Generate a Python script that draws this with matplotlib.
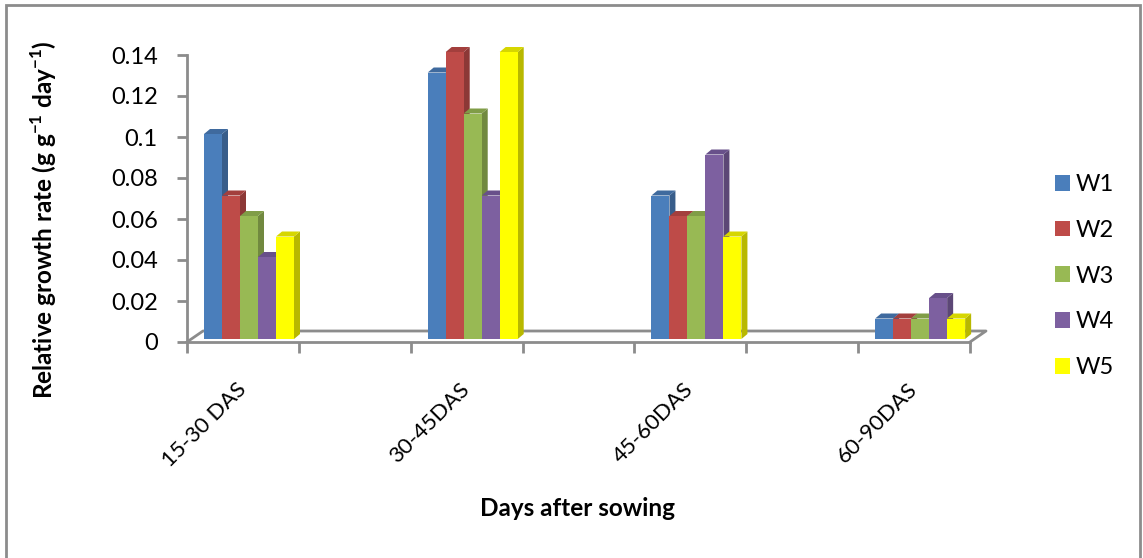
import numpy as np
import matplotlib
matplotlib.use('Agg')
import matplotlib.pyplot as plt
from matplotlib.patches import Polygon, Patch, Rectangle
from matplotlib.lines import Line2D

plt.rcParams['font.family'] = ['Lato', 'DejaVu Sans']
plt.rcParams['mathtext.fontset'] = 'custom'
plt.rcParams['mathtext.rm'] = 'Lato'
plt.rcParams['mathtext.bf'] = 'Lato:bold'

# --- données ---
categories = ['15-30 DAS', '30-45DAS', '45-60DAS', '60-90DAS']
series = ['W1', 'W2', 'W3', 'W4', 'W5']
W1 = [0.10, 0.13, 0.07, 0.01]
W2 = [0.07, 0.14, 0.06, 0.01]
W3 = [0.06, 0.11, 0.06, 0.01]
W4 = [0.04, 0.07, 0.09, 0.02]
W5 = [0.05, 0.14, 0.05, 0.01]
values = [W1, W2, W3, W4, W5]
yticks = [0, 0.02, 0.04, 0.06, 0.08, 0.1, 0.12, 0.14]

front = ['#4A7EBB', '#BE4B48', '#98B954', '#7D60A0', '#FFFF00']
side = ['#385D8A', '#8C3836', '#71893F', '#5C4776', '#B8B800']
top = ['#3F6A9E', '#A33F3D', '#809D47', '#68508A', '#D6D600']

W, H = 1143, 558
fig = plt.figure(figsize=(W / 100, H / 100), dpi=100)

# cadre gris autour du graphique
fig.patches.append(Rectangle((6 / W, -0.05), (1140 - 6) / W, (H - 5) / H + 0.05,
                             transform=fig.transFigure, fill=False,
                             edgecolor='#8C8C8C', linewidth=2))

ax = fig.add_axes([187 / W, (H - 342) / H, (970 - 187) / W, (342 - 55) / H])
ax.set_xlim(-0.5, 6.5)
ax.set_ylim(0, 0.14)

# les catégories occupent une place sur deux (Excel : catégories vides entre)
xpos = np.array([0, 2, 4, 6])

# conversion pixels -> données
p0 = ax.transData.transform((0, 0))
p1 = ax.transData.transform((1, 1))
px_x = p1[0] - p0[0]
px_y = p1[1] - p0[1]
dx, dy = 6 / px_x, 5 / px_y       # profondeur des barres
lift = 3 / px_y                   # barres légèrement au-dessus de l'axe avant

bw = 18 / px_x
start = -0.5 + 17 / px_x

for i, vals in enumerate(values):
    z = 3 + i
    for c, v in zip(xpos, vals):
        x0 = c + start + i * bw
        x1 = x0 + bw
        b, t = lift, v + lift
        ax.add_patch(Polygon([(x1, b), (x1, t), (x1 + dx, t + dy), (x1 + dx, b + dy)],
                             closed=True, facecolor=side[i], edgecolor='none',
                             zorder=z, clip_on=False))
        ax.add_patch(Polygon([(x0, t), (x1, t), (x1 + dx, t + dy), (x0 + dx, t + dy)],
                             closed=True, facecolor=top[i], edgecolor='none',
                             zorder=z, clip_on=False))
        ax.add_patch(Rectangle((x0, b), bw, v, facecolor=front[i],
                               edgecolor='none', zorder=z + 0.5, clip_on=False))

# plancher 3D
fx, fy = 16 / px_x, 11 / px_y
floor_kw = dict(color='#8C8C8C', linewidth=2, clip_on=False, zorder=2)
ax.add_line(Line2D([-0.5, -0.5 + fx, 6.5 + fx, 6.5], [0, fy, fy, 0], **floor_kw))

for s in ['top', 'right']:
    ax.spines[s].set_visible(False)
for s in ['left', 'bottom']:
    ax.spines[s].set_color('#8C8C8C')
    ax.spines[s].set_linewidth(2)

ax.set_yticks(yticks)
ax.set_yticklabels(['0', '0.02', '0.04', '0.06', '0.08', '0.1', '0.12', '0.14'])
ax.tick_params(axis='y', length=7, width=2, color='#8C8C8C', pad=14, labelsize=17)

ax.set_xticks(np.arange(-0.5, 7, 1))
ax.set_xticklabels([])
ax.tick_params(axis='x', which='major', length=8, width=2, color='#8C8C8C')
ax.set_xticks(xpos, minor=True)
ax.set_xticklabels(categories, minor=True, rotation=45, ha='right',
                   va='center', rotation_mode='anchor', fontsize=16)
ax.tick_params(axis='x', which='minor', length=0, pad=32)

fig.text(44 / W, (H - 220) / H,
         r'Relative growth rate (g g$^{\mathbf{-1}}$ day$^{\mathbf{-1}}$)',
         rotation=90, ha='center', va='center', fontsize=17.5, fontweight='bold')
fig.text(578 / W, (H - 508) / H, 'Days after sowing', ha='center', va='center',
         fontsize=17.5, fontweight='bold')

handles = [Patch(facecolor=front[i], edgecolor='none') for i in range(5)]
fig.legend(handles, series, loc='upper left',
           bbox_to_anchor=(1055 / W, (H - 174) / H), frameon=False,
           fontsize=17, handlelength=0.64, handleheight=0.64,
           handletextpad=0.25, labelspacing=1.05, borderpad=0, borderaxespad=0)

fig.savefig('out.png', dpi=100)
